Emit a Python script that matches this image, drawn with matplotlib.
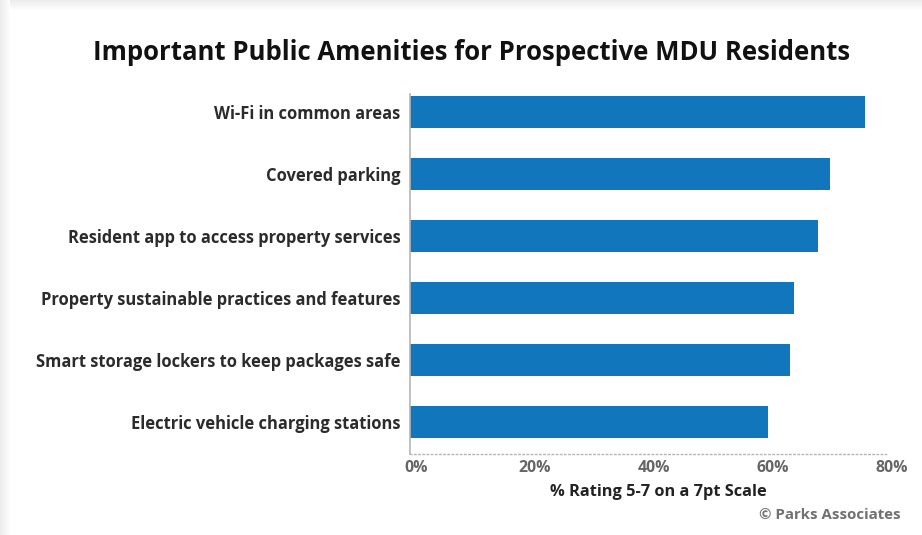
import matplotlib
matplotlib.use("Agg")
import matplotlib.pyplot as plt
import matplotlib.transforms as mtransforms
from matplotlib.patches import Rectangle

# data
categories = [
    "Wi-Fi in common areas",
    "Covered parking",
    "Resident app to access property services",
    "Property sustainable practices and features",
    "Smart storage lockers to keep packages safe",
    "Electric vehicle charging stations",
]
values = [76.5, 70.7, 68.6, 64.6, 63.9, 60.2]
tick_vals = [0, 20, 40, 60, 80]
tick_labels = ["0%", "20%", "40%", "60%", "80%"]

title = "Important Public Amenities for Prospective MDU Residents"
xlabel = "% Rating 5-7 on a 7pt Scale"
source = "© Parks Associates"

W, H = 922, 535
plt.rcParams["font.family"] = ["Open Sans", "DejaVu Sans"]

fig = plt.figure(figsize=(W / 100, H / 100), dpi=100)
fig.patch.set_facecolor("white")

# card shadow at left and top edges
for i in range(10):
    g = 0.925 + i * 0.0075
    fig.patches.append(Rectangle((i / W, 0), 1 / W, 1, transform=fig.transFigure,
                                 facecolor=(g, g, g), edgecolor="none", zorder=0))
    fig.patches.append(Rectangle((i / W, 1 - (i + 1) / H), 1 - i / W, 1 / H,
                                 transform=fig.transFigure,
                                 facecolor=(g, g, g), edgecolor="none", zorder=0))

ax = fig.add_axes([410.3 / W, (H - 454.4) / H, (885.5 - 410.3) / W, (454.4 - 93.8) / H])
ax.set_facecolor("none")

ypos = list(range(len(categories) - 1, -1, -1))
ax.barh(ypos, values, height=0.52, color="#1276bc")

ax.set_xlim(0, 80)
ax.set_ylim(-0.52, 5.29)

ax.set_yticks(ypos)
ax.set_yticklabels(categories, fontsize=11.9, fontweight="bold", color="#2b2b2b")
ax.tick_params(axis="y", length=0, pad=7)

ax.set_xticks(tick_vals)
ax.set_xticklabels(tick_labels, fontsize=11.4, fontweight="bold", color="#666666")
ax.tick_params(axis="x", length=0, pad=4)
offset = mtransforms.ScaledTranslation(6 / 100, 0, fig.dpi_scale_trans)
for lab in ax.get_xticklabels():
    lab.set_transform(lab.get_transform() + offset)

for s in ["top", "right"]:
    ax.spines[s].set_visible(False)
ax.spines["left"].set_color("#b5b5b5")
ax.spines["left"].set_linewidth(1.2)
ax.spines["bottom"].set_color("#b5b5b5")
ax.spines["bottom"].set_linestyle((0, (1, 2)))
ax.spines["bottom"].set_linewidth(1.0)

fig.text(658 / W, 1 - 492 / H, xlabel, ha="center", va="center",
         fontsize=11.8, fontweight="bold", color="#222222")
fig.text(472 / W, 1 - 53 / H, title, ha="center", va="center",
         fontsize=18.5, fontweight="bold", color="#111111")
fig.text(901 / W, 1 - 515 / H, source, ha="right", va="center",
         fontsize=10.8, fontweight="bold", color="#707070")

fig.savefig("out.png", dpi=100)
